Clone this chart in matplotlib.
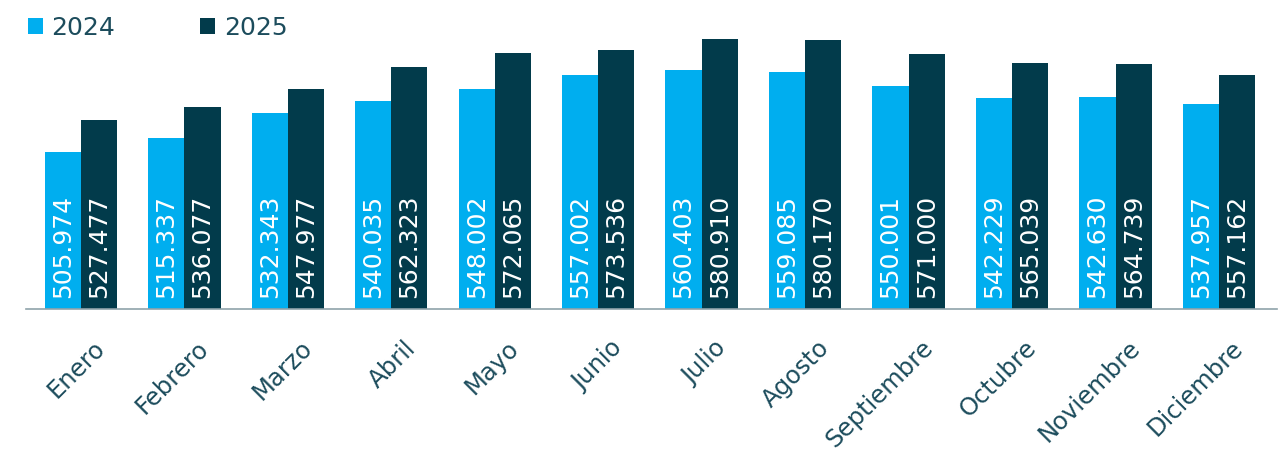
import numpy as np
import matplotlib
matplotlib.use("Agg")
import matplotlib.pyplot as plt
import matplotlib.transforms as mtransforms

# Data
months = ["Enero", "Febrero", "Marzo", "Abril", "Mayo", "Junio", "Julio",
          "Agosto", "Septiembre", "Octubre", "Noviembre", "Diciembre"]
vals_2024 = [505974, 515337, 532343, 540035, 548002, 557002, 560403,
             559085, 550001, 542229, 542630, 537957]
vals_2025 = [527477, 536077, 547977, 562323, 572065, 573536, 580910,
             580170, 571000, 565039, 564739, 557162]

c24 = "#00AEEF"
c25 = "#023B4B"
txt = "#1C4C5C"

plt.rcParams['font.family'] = ['DejaVu Sans']

fig = plt.figure(figsize=(12.88, 4.59), dpi=100)
ax = fig.add_axes([26/1288, 150/459, 1251/1288, 309/459])

x = np.arange(len(months))
w = 0.35
b1 = ax.bar(x - w/2, vals_2024, w, color=c24, label="2024")
b2 = ax.bar(x + w/2, vals_2025, w, color=c25, label="2025")

base = 402300
ax.set_ylim(base, base + 309 / 0.00151)
ax.set_xlim(-0.53, 11.56)

def fmt(v):
    return f"{v:,}".replace(",", ".")

for bars, vals in [(b1, vals_2024), (b2, vals_2025)]:
    for r, v in zip(bars, vals):
        ax.text(r.get_x() + r.get_width()/2, base + 7500, fmt(v), rotation=90,
                ha="center", va="bottom", color="white", fontsize=18)

for s in ["top", "right", "left"]:
    ax.spines[s].set_visible(False)
ax.spines["bottom"].set_color("#8FA3AA")
ax.spines["bottom"].set_linewidth(1.2)
ax.set_yticks([])
ax.set_xticks(x)
ax.set_xticklabels([])
ax.tick_params(axis="x", length=0)

off = mtransforms.ScaledTranslation(0.12, -0.27, fig.dpi_scale_trans)
for xi, m in zip(x, months):
    ax.text(xi, base, m, rotation=45, rotation_mode="anchor", ha="right",
            va="top", color=txt, fontsize=17.5,
            transform=ax.transData + off)

leg = fig.legend(handles=[b1, b2], loc="upper left", bbox_to_anchor=(0.004, 1.015),
                 ncol=2, frameon=False, fontsize=18, handlelength=0.6,
                 handleheight=0.6, handletextpad=0.35, columnspacing=3.4)
for t in leg.get_texts():
    t.set_color(txt)

fig.savefig("out.png", dpi=100)
